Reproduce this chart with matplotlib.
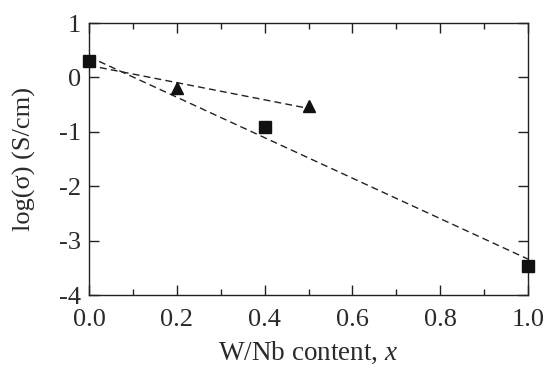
import matplotlib
matplotlib.use("Agg")
import matplotlib.pyplot as plt
from matplotlib.ticker import MultipleLocator

# Data
sq_x = [0.0, 0.4, 1.0]
sq_y = [0.31, -0.92, -3.46]
tri_x = [0.2, 0.5]
tri_y = [-0.20, -0.52]
# dashed guide lines
fit_sq_x = [0.0, 1.0]
fit_sq_y = [0.38, -3.34]
fit_tri_x = [0.0, 0.5]
fit_tri_y = [0.22, -0.57]

plt.rcParams['font.family'] = ['Liberation Serif', 'DejaVu Serif']
plt.rcParams['mathtext.fontset'] = 'custom'
plt.rcParams['mathtext.it'] = 'Liberation Serif:italic'
plt.rcParams['mathtext.rm'] = 'Liberation Serif'

txt = '#2a2a2a'
fig = plt.figure(figsize=(5.47, 3.68), dpi=100)
ax = fig.add_axes([89/547, 1 - 295/368, (528-89)/547, (295-23)/368])

ax.plot(fit_sq_x, fit_sq_y, ls=(0, (5, 3)), color='#222222', lw=1.0)
ax.plot(fit_tri_x, fit_tri_y, ls=(0, (5, 3)), color='#222222', lw=1.0)
ax.plot(sq_x, sq_y, 's', color='#111111', ms=8.5, clip_on=False, zorder=5)
ax.plot(tri_x, tri_y, '^', color='#111111', ms=9, clip_on=False, zorder=5)

ax.set_xlim(0, 1.0)
ax.set_ylim(-4, 1)
ax.xaxis.set_major_locator(MultipleLocator(0.2))
ax.xaxis.set_minor_locator(MultipleLocator(0.1))
ax.yaxis.set_major_locator(MultipleLocator(1))
ax.xaxis.set_major_formatter(plt.FuncFormatter(lambda v, p: f"{v:.1f}"))
ax.yaxis.set_major_formatter(plt.FuncFormatter(lambda v, p: f"{int(round(v))}".replace('\u2212', '-')))
ax.tick_params(which='both', direction='in', top=True, right=True, labelsize=19,
               width=1, color='#222222', labelcolor=txt)
ax.tick_params(which='major', length=7.5)
ax.tick_params(axis='x', which='major', pad=10)
ax.tick_params(axis='y', which='major', pad=6)
ax.tick_params(which='minor', length=4.5)
for s in ax.spines.values():
    s.set_linewidth(1.0)
    s.set_color('#222222')

ax.set_xlabel('W/Nb content, $x$', fontsize=19.5, labelpad=6.5, color=txt)
ax.set_ylabel('log(σ) (S/cm)', fontsize=19, labelpad=16, color=txt)

fig.savefig('out.png', dpi=100)
